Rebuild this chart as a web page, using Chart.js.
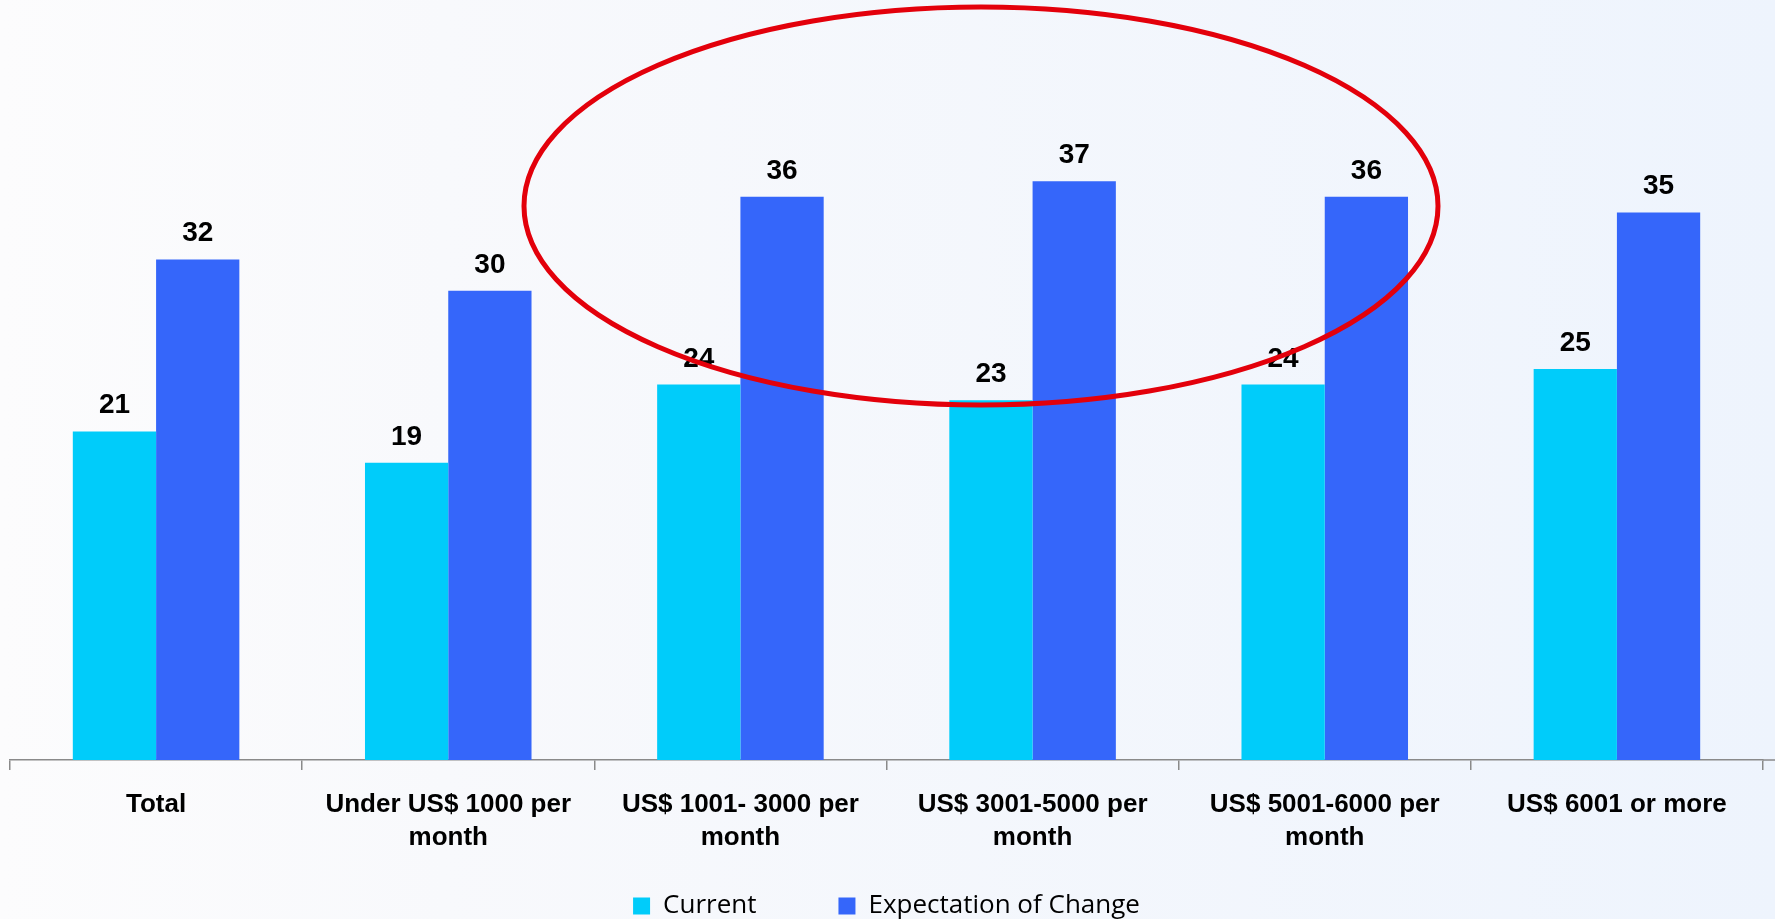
<!DOCTYPE html>
<html>
<head>
<meta charset="utf-8">
<script src="https://cdn.jsdelivr.net/npm/chart.js@4.4.1/dist/chart.umd.min.js"></script>
<style>
  html, body { margin: 0; padding: 0; }
  body {
    width: 1775px; height: 919px; overflow: hidden;
    background: linear-gradient(to right, #fcfcfd 0%, #f8f9fc 25%, #eef4fd 100%);
  }
  #wrap { width: 1775px; height: 919px; }
</style>
</head>
<body>
<div id="wrap"><canvas id="chart" width="1775" height="919"></canvas></div>
<script>
const categories = [
  "Total",
  ["Under US$ 1000 per", "month"],
  ["US$ 1001- 3000 per", "month"],
  ["US$ 3001-5000 per", "month"],
  ["US$ 5001-6000 per", "month"],
  "US$ 6001 or more"
];
const currentValues = [21, 19, 24, 23, 24, 25];
const expectationValues = [32, 30, 36, 37, 36, 35];
const seriesNames = ["Current", "Expectation of Change"];

const cyan = "#00ccfa";
const blue = "#3566fa";
const legendGap = 82;

// value labels above each bar
const valueLabels = {
  id: "valueLabels",
  afterDatasetsDraw(chart) {
    const ctx = chart.ctx;
    ctx.save();
    ctx.font = "bold 28px 'Liberation Sans', Arial, sans-serif";
    ctx.fillStyle = "#000";
    ctx.textAlign = "center";
    ctx.textBaseline = "alphabetic";
    chart.data.datasets.forEach((ds, i) => {
      chart.getDatasetMeta(i).data.forEach((bar, j) => {
        ctx.fillText(ds.data[j], bar.x, bar.y - 18);
      });
    });
    ctx.restore();
  }
};

// legend items sit right at the bottom, wide gap between them
const legendSpot = {
  id: "legendSpot",
  beforeDraw(chart) {
    chart.legend.top = chart.height - 26 - legendGap;
  }
};

// axis line runs on to the right edge
const axisTail = {
  id: "axisTail",
  afterDraw(chart) {
    const ctx = chart.ctx;
    const y = chart.chartArea.bottom;
    ctx.save();
    ctx.strokeStyle = "#8a8a8a";
    ctx.lineWidth = 1.5;
    ctx.beginPath();
    ctx.moveTo(chart.chartArea.right, y);
    ctx.lineTo(chart.width, y);
    ctx.stroke();
    ctx.restore();
  }
};

// red highlight ellipse drawn over the middle groups
const highlight = {
  id: "highlight",
  afterDraw(chart) {
    const ctx = chart.ctx;
    ctx.save();
    ctx.strokeStyle = "#e3000b";
    ctx.lineWidth = 5;
    ctx.beginPath();
    ctx.ellipse(981, 206, 457, 199, 0, 0, Math.PI * 2);
    ctx.stroke();
    ctx.restore();
  }
};

new Chart(document.getElementById("chart").getContext("2d"), {
  type: "bar",
  data: {
    labels: categories,
    datasets: [
      { label: seriesNames[0], data: currentValues, backgroundColor: cyan },
      { label: seriesNames[1], data: expectationValues, backgroundColor: blue }
    ]
  },
  options: {
    responsive: false,
    animation: false,
    layout: { padding: { left: 10, right: 12, top: 56, bottom: 0 } },
    categoryPercentage: 0.57,
    barPercentage: 1.0,
    scales: {
      y: { display: false, min: 0, max: 45 },
      x: {
        afterFit(axis) { axis.height = 99; },
        border: { display: true, color: "#8a8a8a", width: 1.5 },
        grid: {
          display: true,
          offset: true,
          drawOnChartArea: false,
          drawTicks: true,
          tickLength: 10,
          color: "#8a8a8a",
          lineWidth: 1.5
        },
        ticks: {
          color: "#000",
          padding: 18,
          maxRotation: 0,
          autoSkip: false,
          font: { family: "'Liberation Sans', Arial, sans-serif", size: 26, weight: "bold", lineHeight: 1.27 }
        }
      }
    },
    plugins: {
      tooltip: { enabled: false },
      legend: {
        position: "bottom",
        maxHeight: 60,
        labels: {
          boxWidth: 17,
          boxHeight: 17,
          padding: legendGap,
          color: "#000",
          font: { family: "'Open Sans', sans-serif", size: 26 }
        }
      }
    }
  },
  plugins: [valueLabels, legendSpot, axisTail, highlight]
});
</script>
</body>
</html>
